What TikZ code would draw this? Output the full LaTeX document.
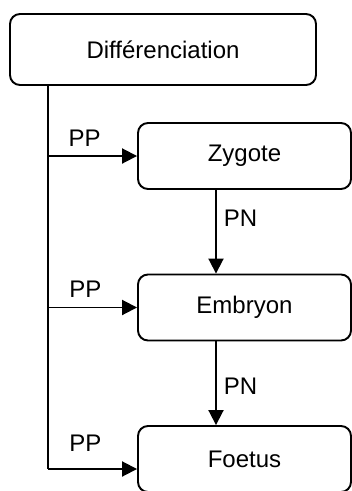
\documentclass[tikz,border=0pt]{standalone}
\usepackage{fontspec}
\setmainfont{Liberation Sans}
\usetikzlibrary{arrows.meta}
\begin{document}
\begin{tikzpicture}[x=1pt,y=-1pt,
  every node/.style={font=\fontsize{24}{28}\selectfont},
  box/.style={draw=black, line width=1.9pt, rounded corners=10pt, fill=white, align=center, inner sep=0pt},
  conn/.style={line width=1.9pt, -{Triangle[length=15pt,width=15pt]}},
  trunk/.style={line width=1.9pt},
  lbl/.style={inner sep=0pt}]
\useasboundingbox (0,0) rectangle (352,491);
\clip (0,0) rectangle (352,491);
\node[box, minimum width=306pt, minimum height=71pt] (top) at (163,49.5) {Différenciation};
\node[box, minimum width=213pt, minimum height=66pt] (zyg) at (244.5,156) {Zygote};
\node[box, minimum width=213pt, minimum height=66pt] (emb) at (244.5,307.5) {Embryon};
\node[box, minimum width=213pt, minimum height=66pt] (foe) at (244.5,459) {Foetus};
\coordinate (tb) at (48,469);
\draw[trunk] (tb |- top.south) -- (tb);
\draw[conn] (tb |- zyg.west) -- (zyg.west) node[lbl, pos=0.41, above=9pt] {PP};
\draw[conn] (tb |- emb.west) -- (emb.west) node[lbl, pos=0.42, above=9pt] {PP};
\draw[conn] (tb) -- ([yshift=-10pt]foe.west) node[lbl, pos=0.42, above=17pt] {PP};
\draw[conn] ([xshift=-28.5pt]zyg.south) -- ([xshift=-28.5pt]emb.north) node[lbl, pos=0.34, right=7pt] {PN};
\draw[conn] ([xshift=-28.5pt]emb.south) -- ([xshift=-28.5pt]foe.north) node[lbl, pos=0.54, right=7pt] {PN};
\end{tikzpicture}
\end{document}
